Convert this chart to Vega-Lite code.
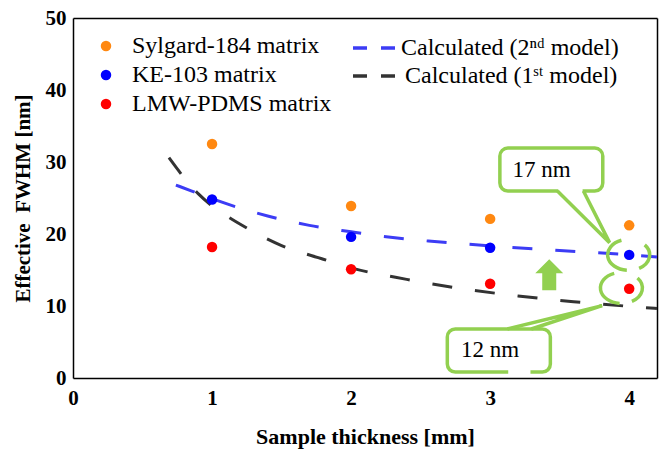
{
  "$schema": "https://vega.github.io/schema/vega-lite/v6.json",
  "width": 584,
  "height": 360,
  "autosize": {"type": "none"},
  "padding": {"left": 73, "top": 18, "right": 2, "bottom": 73},
  "background": "white",
  "config": {
    "view": {"stroke": null},
    "axis": {
      "domainColor": "black", "domainWidth": 1.5, "tickColor": "black", "tickWidth": 1,
      "labelFont": "Liberation Serif", "labelFontSize": 21, "labelFontWeight": "bold", "labelColor": "black",
      "titleFont": "Liberation Serif", "titleFontSize": 22, "titleFontWeight": "bold", "titleColor": "black",
      "grid": false, "labelOverlap": false, "labelFlush": false, "tickSize": 0
    },
    "legend": {
      "labelFont": "Liberation Serif", "labelFontSize": 24, "labelColor": "black", "padding": 0, "labelLimit": 400
    }
  },
  "datasets": {
    "points": [
      {"series": "Sylgard-184 matrix", "x": 1, "y": 32.5},
      {"series": "Sylgard-184 matrix", "x": 2, "y": 23.9},
      {"series": "Sylgard-184 matrix", "x": 3, "y": 22.1},
      {"series": "Sylgard-184 matrix", "x": 4, "y": 21.2},
      {"series": "KE-103 matrix", "x": 1, "y": 24.8},
      {"series": "KE-103 matrix", "x": 2, "y": 19.6},
      {"series": "KE-103 matrix", "x": 3, "y": 18.1},
      {"series": "KE-103 matrix", "x": 4, "y": 17.1},
      {"series": "LMW-PDMS matrix", "x": 1, "y": 18.2},
      {"series": "LMW-PDMS matrix", "x": 2, "y": 15.1},
      {"series": "LMW-PDMS matrix", "x": 3, "y": 13.1},
      {"series": "LMW-PDMS matrix", "x": 4, "y": 12.4}
    ],
    "curve2": [
      {"model": "Calculated (2ⁿᵈ model)", "x": 0.74, "y": 26.8},
      {"model": "Calculated (2ⁿᵈ model)", "x": 0.85, "y": 26.0},
      {"model": "Calculated (2ⁿᵈ model)", "x": 1.0, "y": 24.9},
      {"model": "Calculated (2ⁿᵈ model)", "x": 1.2, "y": 23.6},
      {"model": "Calculated (2ⁿᵈ model)", "x": 1.4, "y": 22.5},
      {"model": "Calculated (2ⁿᵈ model)", "x": 1.7, "y": 21.2},
      {"model": "Calculated (2ⁿᵈ model)", "x": 2.0, "y": 20.3},
      {"model": "Calculated (2ⁿᵈ model)", "x": 2.3, "y": 19.5},
      {"model": "Calculated (2ⁿᵈ model)", "x": 2.6, "y": 18.95},
      {"model": "Calculated (2ⁿᵈ model)", "x": 3.0, "y": 18.35},
      {"model": "Calculated (2ⁿᵈ model)", "x": 3.5, "y": 17.7},
      {"model": "Calculated (2ⁿᵈ model)", "x": 4.0, "y": 17.1},
      {"model": "Calculated (2ⁿᵈ model)", "x": 4.2, "y": 16.8}
    ],
    "curve1": [
      {"model": "Calculated (1ˢᵗ model)", "x": 0.69, "y": 30.6},
      {"model": "Calculated (1ˢᵗ model)", "x": 0.8, "y": 27.8},
      {"model": "Calculated (1ˢᵗ model)", "x": 0.9, "y": 25.6},
      {"model": "Calculated (1ˢᵗ model)", "x": 1.0, "y": 23.9},
      {"model": "Calculated (1ˢᵗ model)", "x": 1.2, "y": 21.4},
      {"model": "Calculated (1ˢᵗ model)", "x": 1.5, "y": 18.4},
      {"model": "Calculated (1ˢᵗ model)", "x": 1.8, "y": 16.5},
      {"model": "Calculated (1ˢᵗ model)", "x": 2.0, "y": 15.3},
      {"model": "Calculated (1ˢᵗ model)", "x": 2.4, "y": 13.7},
      {"model": "Calculated (1ˢᵗ model)", "x": 2.8, "y": 12.4},
      {"model": "Calculated (1ˢᵗ model)", "x": 3.2, "y": 11.4},
      {"model": "Calculated (1ˢᵗ model)", "x": 3.6, "y": 10.6},
      {"model": "Calculated (1ˢᵗ model)", "x": 4.0, "y": 9.95},
      {"model": "Calculated (1ˢᵗ model)", "x": 4.2, "y": 9.65}
    ],
    "ellipses": [
      {"x": 3.996, "y": 17.1},
      {"x": 3.944, "y": 12.5}
    ],
    "arrow": [
      {"x": 3.425, "y": 14.35}
    ],
    "boxes": [
      {"label": "17 nm", "x1": 3.07, "x2": 3.81, "y1": 25.97, "y2": 31.94, "tx": 3.37, "ty": 28.9, "c1": 3.49, "c2": 3.665},
      {"label": "12 nm", "x1": 2.692, "x2": 3.433, "y1": 0.83, "y2": 6.81, "tx": 3.0, "ty": 3.9, "c1": 3.13, "c2": 3.29}
    ],
    "pointers": [
      {"grp": "a", "ord": 1, "x": 3.484, "y": 25.97},
      {"grp": "a", "ord": 2, "x": 3.859, "y": 18.8},
      {"grp": "a", "ord": 3, "x": 3.671, "y": 25.97},
      {"grp": "b", "ord": 1, "x": 3.124, "y": 6.81},
      {"grp": "b", "ord": 2, "x": 3.806, "y": 10.04},
      {"grp": "b", "ord": 3, "x": 3.296, "y": 6.81}
    ]
  },
  "resolve": {"axis": {"x": "independent", "y": "independent"}},
  "layer": [
    {
      "data": {"name": "curve2"},
      "mark": {"type": "line", "strokeWidth": 3, "strokeDash": [20, 23], "interpolate": "monotone"},
      "encoding": {
        "x": {
          "field": "x", "type": "quantitative",
          "scale": {"domain": [0, 4.2], "nice": false, "zero": false},
          "axis": {
            "orient": "bottom", "title": "Sample thickness [mm]",
            "values": [0, 0.2, 0.4, 0.6, 0.8, 1, 1.2, 1.4, 1.6, 1.8, 2, 2.2, 2.4, 2.6, 2.8, 3, 3.2, 3.4, 3.6, 3.8, 4],
            "labelExpr": "datum.value % 1 === 0 ? format(datum.value, 'd') : ''",
            "labelPadding": 9, "titlePadding": 18,
            "encode": {"ticks": {"update": {"y2": {"signal": "datum.value % 1 === 0 ? -8 : -5"}}}}
          }
        },
        "y": {
          "field": "y", "type": "quantitative",
          "scale": {"domain": [0, 50], "nice": false, "zero": false},
          "axis": {
            "orient": "left", "title": "Effective\u00a0\u00a0FWHM [nm]", "titleFontSize": 21,
            "values": [0, 2, 4, 6, 8, 10, 12, 14, 16, 18, 20, 22, 24, 26, 28, 30, 32, 34, 36, 38, 40, 42, 44, 46, 48, 50],
            "labelExpr": "datum.value % 10 === 0 ? format(datum.value, 'd') : ''",
            "labelPadding": 7, "titlePadding": 12,
            "encode": {"ticks": {"update": {"x2": {"signal": "datum.value % 10 === 0 ? 7 : 4"}}}}
          }
        },
        "stroke": {
          "field": "model", "type": "nominal",
          "scale": {"domain": ["Calculated (2ⁿᵈ model)"], "range": ["#3c3cf5"]},
          "legend": {
            "orient": "none", "legendX": 278, "legendY": 7, "title": null,
            "symbolType": "stroke", "symbolSize": 1764, "symbolDash": [14, 14], "symbolStrokeWidth": 3.5,
            "labelFont": "Liberation Serif", "labelFontSize": 24, "labelOffset": 4
          }
        }
      }
    },
    {
      "data": {"name": "curve1"},
      "mark": {"type": "line", "strokeWidth": 3, "strokeDash": [20, 23], "interpolate": "monotone"},
      "encoding": {
        "x": {"field": "x", "type": "quantitative", "axis": null},
        "y": {"field": "y", "type": "quantitative", "axis": null},
        "color": {
          "field": "model", "type": "nominal",
          "scale": {"domain": ["Calculated (1ˢᵗ model)"], "range": ["#333333"]},
          "legend": {
            "orient": "none", "legendX": 278, "legendY": 35, "title": null,
            "symbolType": "stroke", "symbolSize": 1764, "symbolDash": [14, 14], "symbolStrokeWidth": 3.5,
            "labelFont": "Liberation Serif", "labelFontSize": 24, "labelOffset": 8
          }
        }
      }
    },
    {
      "data": {"name": "points"},
      "mark": {"type": "circle", "size": 110, "opacity": 1},
      "encoding": {
        "x": {"field": "x", "type": "quantitative", "axis": null},
        "y": {"field": "y", "type": "quantitative", "axis": null},
        "fill": {
          "field": "series", "type": "nominal",
          "scale": {"domain": ["Sylgard-184 matrix", "KE-103 matrix", "LMW-PDMS matrix"], "range": ["#ff8811", "#0000ff", "#ff0000"]},
          "legend": {
            "orient": "none", "legendX": 21, "legendY": 16, "title": null,
            "labelFont": "Liberation Serif", "labelFontSize": 24,
            "symbolSize": 110, "symbolType": "circle", "symbolStrokeWidth": 0, "labelOffset": 14, "rowPadding": 5
          }
        }
      }
    },
    {
      "data": {"name": "points"},
      "mark": {"type": "point", "opacity": 0},
      "encoding": {
        "x": {
          "field": "x", "type": "quantitative",
          "axis": {
            "orient": "top", "title": null, "labels": false,
            "values": [0, 0.2, 0.4, 0.6, 0.8, 1, 1.2, 1.4, 1.6, 1.8, 2, 2.2, 2.4, 2.6, 2.8, 3, 3.2, 3.4, 3.6, 3.8, 4],
            "encode": {"ticks": {"update": {"y2": {"signal": "datum.value % 1 === 0 ? 8 : 5"}}}}
          }
        },
        "y": {
          "field": "y", "type": "quantitative",
          "axis": {
            "orient": "right", "title": null, "labels": false,
            "values": [0, 2, 4, 6, 8, 10, 12, 14, 16, 18, 20, 22, 24, 26, 28, 30, 32, 34, 36, 38, 40, 42, 44, 46, 48, 50],
            "encode": {"ticks": {"update": {"x2": {"signal": "datum.value % 10 === 0 ? -7 : -4"}}}}
          }
        }
      }
    },
    {
      "data": {"name": "ellipses"},
      "mark": {"type": "point", "shape": "M-7.2,-14.6A21,15.5 0 0 0 -1.8,15.4M16.1,-10A21,15.5 0 0 1 10.5,13.4", "size": 4, "filled": false, "stroke": "#92d050", "strokeWidth": 3.5, "opacity": 1},
      "encoding": {
        "x": {"field": "x", "type": "quantitative", "axis": null},
        "y": {"field": "y", "type": "quantitative", "axis": null}
      }
    },
    {
      "data": {"name": "arrow"},
      "mark": {"type": "point", "shape": "M0,-15.5L14,-1.5L7,-1.5L7,15.5L-7,15.5L-7,-1.5L-14,-1.5Z", "size": 4, "filled": true, "fill": "#92d050", "strokeWidth": 0, "opacity": 1},
      "encoding": {
        "x": {"field": "x", "type": "quantitative", "axis": null},
        "y": {"field": "y", "type": "quantitative", "axis": null}
      }
    },
    {
      "data": {"name": "boxes"},
      "mark": {"type": "rect", "fill": "white", "stroke": "#92d050", "strokeWidth": 3.5, "cornerRadius": 8},
      "encoding": {
        "x": {"field": "x1", "type": "quantitative", "axis": null},
        "x2": {"field": "x2"},
        "y": {"field": "y1", "type": "quantitative", "axis": null},
        "y2": {"field": "y2"}
      }
    },
    {
      "data": {"name": "boxes"},
      "mark": {"type": "rule", "stroke": "white", "strokeWidth": 5},
      "encoding": {
        "x": {"field": "c1", "type": "quantitative", "axis": null},
        "x2": {"field": "c2"},
        "y": {"field": "y1", "type": "quantitative", "axis": null}
      }
    },
    {
      "data": {"name": "pointers"},
      "mark": {"type": "line", "stroke": "#92d050", "strokeWidth": 3.5, "strokeJoin": "miter"},
      "encoding": {
        "x": {"field": "x", "type": "quantitative", "axis": null},
        "y": {"field": "y", "type": "quantitative", "axis": null},
        "detail": {"field": "grp"},
        "order": {"field": "ord"}
      }
    },
    {
      "data": {"name": "boxes"},
      "mark": {"type": "text", "font": "Liberation Serif", "fontSize": 23, "color": "black", "align": "center", "baseline": "middle"},
      "encoding": {
        "x": {"field": "tx", "type": "quantitative", "axis": null},
        "y": {"field": "ty", "type": "quantitative", "axis": null},
        "text": {"field": "label"}
      }
    }
  ]
}
